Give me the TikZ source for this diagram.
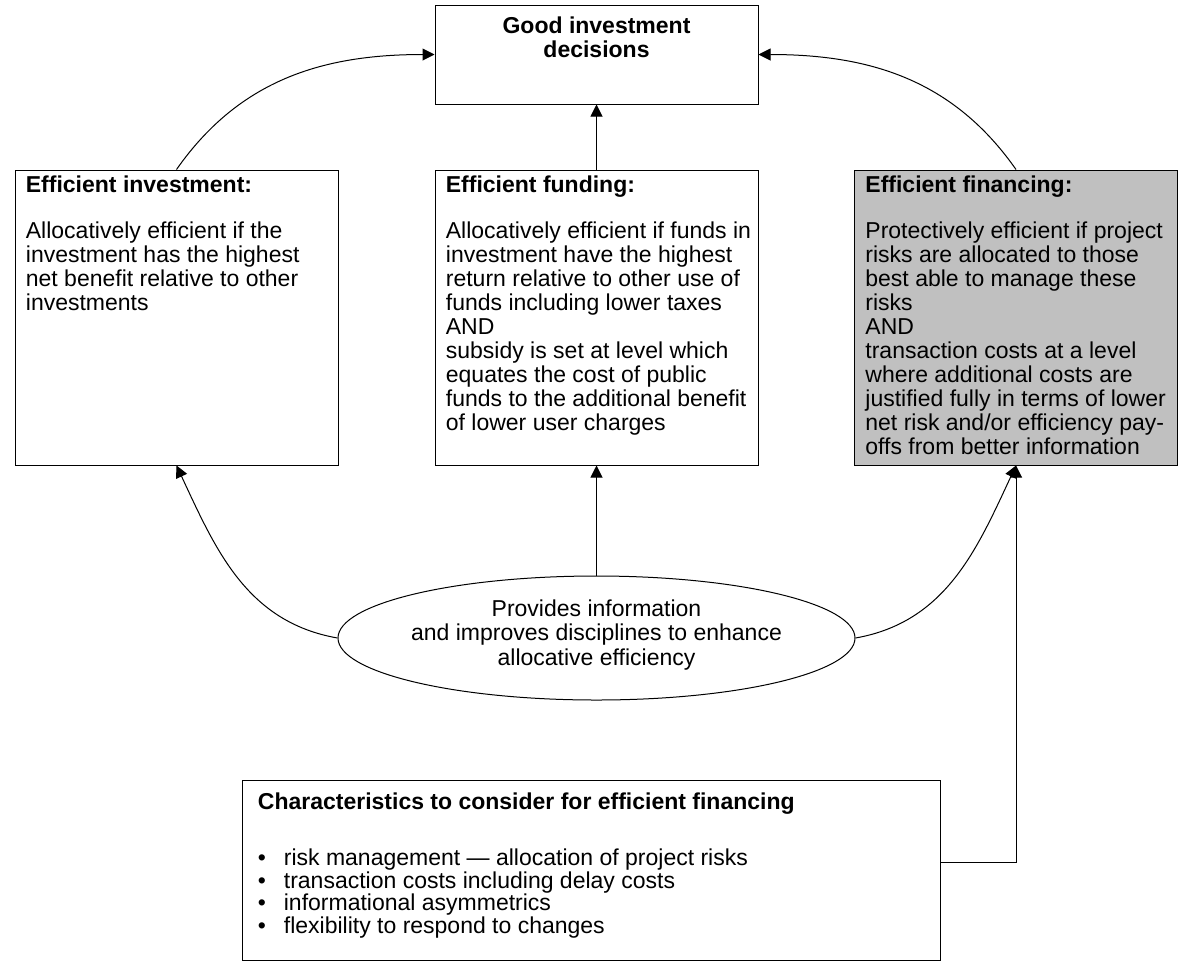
\documentclass[tikz,border=0pt]{standalone}
\usepackage{fontspec}
\setmainfont{Liberation Sans}
\usetikzlibrary{shapes.geometric, arrows.meta}
\definecolor{fingray}{RGB}{192,192,192}
\newcommand\bodyfont{\fontsize{11.5pt}{12pt}\selectfont}
\newcommand\listfont{\fontsize{11.5pt}{11.2pt}\selectfont}
\newcommand\ovalfont{\fontsize{11.5pt}{12.4pt}\selectfont}

\begin{document}
\begin{tikzpicture}[x=0.5pt,y=-0.5pt]
	\tikzstyle{frame} = [rectangle,draw=black,line width=0.5pt,minimum width=161.5pt,inner sep=0pt]
	\tikzstyle{shaded} = [frame,fill=fingray]
	\tikzstyle{blurb} = [inner sep=0pt,align=left,anchor=north west,font=\bodyfont]
	\tikzstyle{oval} = [ellipse,draw=black,line width=0.5pt,inner sep=0pt]
	\tikzstyle{link} = [-{Triangle[length=6pt,width=6pt]},line width=0.5pt]
	\useasboundingbox (0,0) rectangle (1178,976);
	% boxes
	\node[frame,minimum height=49.5pt] (goal) at (596.5,54.5) {};
	\node[frame,minimum height=147.5pt] (inv) at (176.5,317.5) {};
	\node[frame,minimum height=147.5pt] (fund) at (596.5,317.5) {};
	\node[shaded,minimum height=147.5pt] (fin) at (1016,317.5) {};
	\node[oval,minimum width=258.5pt,minimum height=62pt] (info) at (596.5,638) {};
	\node[frame,minimum width=349pt,minimum height=90pt] (chars) at (591,870) {};
	\coordinate (bend) at (1016,862);
	% texts
	\node[blurb,anchor=north,align=center,font=\bodyfont\bfseries] (goaltext) at ([yshift=-6pt]goal.north)
		{Good investment\\decisions};
	\node[inner sep=0pt,align=center,font=\ovalfont] (infotext) at ([yshift=1.5pt]info.center)
		{Provides information\\and improves disciplines to enhance\\allocative efficiency};
	\node[blurb] (invtext) at ([xshift=5.5pt,yshift=-3.2pt]inv.north west)
		{\textbf{Efficient investment:}\\[11pt]
		Allocatively efficient if the\\
		investment has the highest\\
		net benefit relative to other\\
		investments};
	\node[blurb] (fundtext) at ([xshift=5.5pt,yshift=-3.2pt]fund.north west)
		{\textbf{Efficient funding:}\\[11pt]
		Allocatively efficient if funds in\\
		investment have the highest\\
		return relative to other use of\\
		funds including lower taxes\\
		AND\\
		subsidy is set at level which\\
		equates the cost of public\\
		funds to the additional benefit\\
		of lower user charges};
	\node[blurb] (fintext) at ([xshift=5.5pt,yshift=-3.2pt]fin.north west)
		{\textbf{Efficient financing:}\\[11pt]
		Protectively efficient if project\\
		risks are allocated to those\\
		best able to manage these\\
		risks\\
		AND\\
		transaction costs at a level\\
		where additional costs are\\
		justified fully in terms of lower\\
		net risk and/or efficiency pay-\\
		offs from better information};
	\node[blurb,font=\listfont] (charstext) at ([xshift=8pt,yshift=-6.5pt]chars.north west)
		{\textbf{Characteristics to consider for efficient financing}\\[17pt]
		\makebox[13pt][l]{\textbullet}risk management — allocation of project risks\\
		\makebox[13pt][l]{\textbullet}transaction costs including delay costs\\
		\makebox[13pt][l]{\textbullet}informational asymmetrics\\
		\makebox[13pt][l]{\textbullet}flexibility to respond to changes};
	% connectors
	\draw[link] (inv.north) to[out=55,in=180] (goal.west);
	\draw[link] (fin.north) to[out=125,in=0] (goal.east);
	\draw[link] (fund.north) -- (goal.south);
	\draw[link] (info.north) -- (fund.south);
	\draw[link] (info.west) to[out=170,in=-65] (inv.south);
	\draw[link] (info.east) to[out=10,in=-115] (fin.south);
	\draw[link] (chars.east |- bend) -| (fin.south);
\end{tikzpicture}
\end{document}
